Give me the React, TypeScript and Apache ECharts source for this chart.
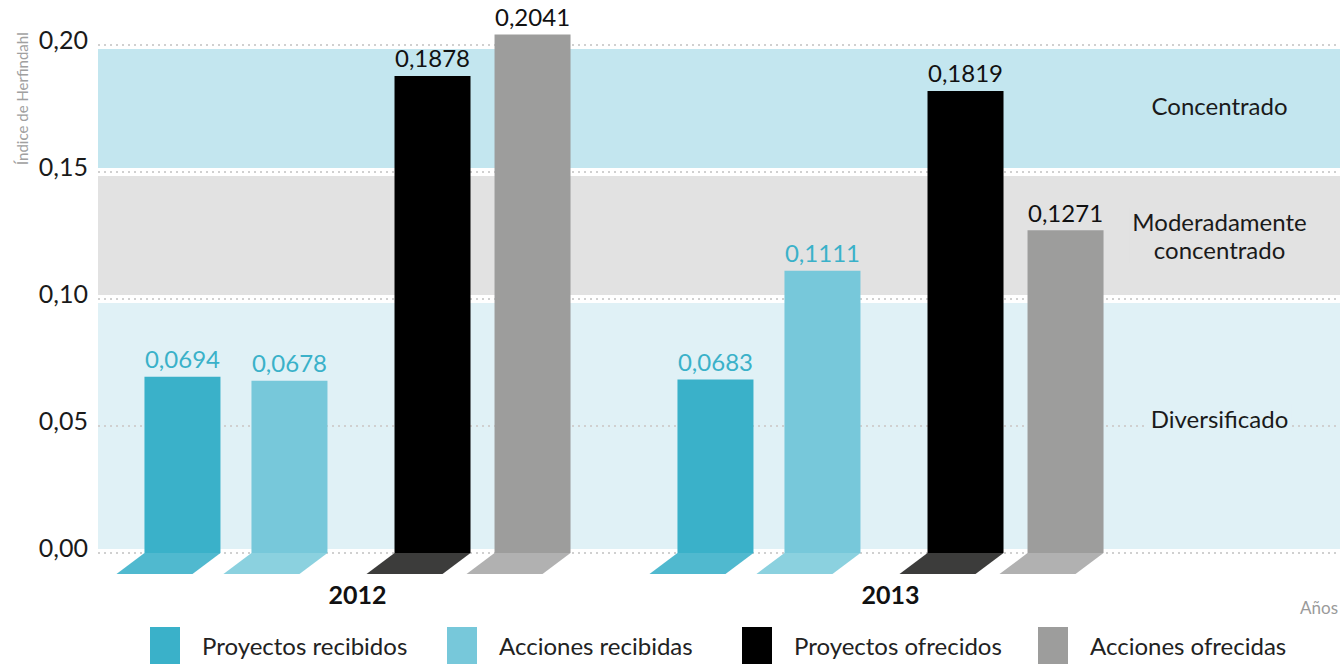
import React, { useEffect, useRef } from 'react';
import * as echarts from 'echarts';

// ---------- data ----------
const years = ['2012', '2013'];
const seriesNames = ['Proyectos recibidos', 'Acciones recibidas', 'Proyectos ofrecidos', 'Acciones ofrecidas'];
const proyectosRecibidos = [0.0694, 0.0683];
const accionesRecibidas = [0.0678, 0.1111];
const proyectosOfrecidos = [0.1878, 0.1819];
const accionesOfrecidas = [0.2041, 0.1271];
const yTicks = [0, 0.05, 0.1, 0.15, 0.2];
const gapTicks = [0, 0.1, 0.15, 0.2];
const bandNames = ['Diversificado', 'Moderadamente\nconcentrado', 'Concentrado'];
const bandBounds = [
  [0, 0.1],
  [0.1, 0.15],
  [0.15, 0.2],
];
const yAxisTitle = 'Índice de Herfindahl';
const xAxisTitle = 'Años';

// ---------- styles ----------
const FONT = 'Lato';
const barColors = ['#3ab1c9', '#77c8da', '#000000', '#9d9d9c'];
const floorColors = ['#50b9cf', '#8bd1df', '#3c3c3b', '#b1b1b1'];
const labelColors = ['#3ab1c9', '#3ab1c9', '#111111', '#111111'];
const bandColors = ['#e0f1f6', '#e2e2e2', '#c3e6ef'];
const bandLabelOffsets = [[0, -8], [0, 0], [0, -3]];
const legendLefts = [150, 447, 742, 1038];

const BAR_W = 76;
const GAP_FRAC = 0.316;
// column widths on the axis: bar, spacer, bar, spacer, bar, bar
const columnWidths = [BAR_W, 5.3, BAR_W, 32.7, BAR_W, BAR_W];
const barColumnIndex = [0, 2, 4, 5];

function fmt(v: number, d: number) {
  return v.toFixed(d).replace('.', ',');
}

export default function App() {
  const ref = useRef<HTMLDivElement>(null);

  useEffect(() => {
    if (!ref.current) return;
    const chart = echarts.init(ref.current, undefined, { renderer: 'svg' });
    const values = [proyectosRecibidos, accionesRecibidas, proyectosOfrecidos, accionesOfrecidas];

    // replicate echarts bar layout offsets
    let sum = 0;
    columnWidths.forEach((w) => (sum += w * (1 + GAP_FRAC)));
    sum -= columnWidths[columnWidths.length - 1] * GAP_FRAC;
    let off = -sum / 2;
    const centers: number[] = [];
    columnWidths.forEach((w) => {
      centers.push(off + w / 2);
      off += w * (1 + GAP_FRAC);
    });
    const barCenters = barColumnIndex.map((c) => centers[c]);

    const spacer = (w: number, k: number) => ({
      name: 'spacer' + k,
      type: 'bar',
      xAxisIndex: 1,
      yAxisIndex: 1,
      data: years.map(() => null),
      barWidth: w,
      barGap: GAP_FRAC * 100 + '%',
      silent: true,
    });

    const barSeries: any[] = [];
    values.forEach((vals, i) => {
      barSeries.push({
        name: seriesNames[i],
        type: 'bar',
        xAxisIndex: 1,
        yAxisIndex: 1,
        data: vals,
        barWidth: BAR_W,
        barGap: GAP_FRAC * 100 + '%',
        clip: false,
        z: 10,
        itemStyle: { color: barColors[i] },
        label: {
          show: true,
          position: 'top',
          distance: 6,
          fontSize: 24,
          fontFamily: FONT,
          color: labelColors[i],
          formatter: (p: any) => fmt(p.value, 4),
        },
        emphasis: { disabled: true },
      });
      if (i === 0) barSeries.push(spacer(columnWidths[1], 1));
      if (i === 1) barSeries.push(spacer(columnWidths[3], 2));
    });

    const floorSeries = values.map((vals, i) => ({
      name: 'floor' + i,
      type: 'custom',
      xAxisIndex: 1,
      yAxisIndex: 1,
      z: 10,
      silent: true,
      data: vals.map((v, k) => [k, v]),
      encode: { x: 0, y: 1 },
      renderItem: (_params: any, api: any) => {
        const base = api.coord([api.value(0), 0]);
        const xl = base[0] + barCenters[i] - BAR_W / 2;
        const xr = xl + BAR_W;
        const y = base[1];
        return {
          type: 'polygon',
          shape: {
            points: [
              [xl, y],
              [xr, y],
              [xr - 28, y + 21],
              [xl - 28, y + 21],
            ],
          },
          style: { fill: floorColors[i] },
        };
      },
    }));

    const option: any = {
      animation: false,
      textStyle: { fontFamily: FONT },
      grid: [
        { left: 98, right: 0, top: 45, bottom: 111 },
        { left: 91, right: 183, top: 45, bottom: 111 },
      ],
      xAxis: [
        { type: 'value', gridIndex: 0, show: false, min: 0, max: 1 },
        {
          type: 'category',
          gridIndex: 1,
          data: years,
          axisLine: { show: false },
          axisTick: { show: false },
          axisLabel: { fontSize: 25, fontWeight: 'bold', color: '#111', margin: 28, fontFamily: FONT },
        },
      ],
      yAxis: [
        {
          type: 'value',
          gridIndex: 0,
          min: 0,
          max: 0.2,
          interval: 0.05,
          axisLine: { show: false },
          axisTick: { show: false },
          splitLine: { show: false },
          axisLabel: {
            fontSize: 25,
            color: '#1a1a1a',
            margin: 10,
            fontFamily: FONT,
            verticalAlign: 'bottom',
            lineHeight: 12,
            formatter: (v: number) => fmt(v, 2),
          },
        },
        {
          type: 'value',
          gridIndex: 1,
          min: 0,
          max: 0.2,
          interval: 0.05,
          show: false,
          splitLine: { show: false },
        },
      ],
      legend: seriesNames.map((n, i) => ({
        data: [n],
        left: legendLefts[i],
        top: 627,
        padding: 0,
        itemWidth: 30,
        itemHeight: 37,
        icon: 'rect',
        selectedMode: false,
        textStyle: { fontSize: 24, color: '#222', fontFamily: FONT, padding: [0, 0, 0, 17] },
      })),
      graphic: [
        {
          type: 'text',
          x: 22,
          y: 165,
          rotation: Math.PI / 2,
          style: {
            text: yAxisTitle,
            fontSize: 15,
            fontFamily: FONT,
            fill: '#a0a0a0',
            align: 'left',
            verticalAlign: 'middle',
          },
        },
        {
          type: 'text',
          x: 1338,
          y: 607,
          style: {
            text: xAxisTitle,
            fontSize: 17,
            fontFamily: FONT,
            fill: '#9a9a9a',
            align: 'right',
            verticalAlign: 'middle',
          },
        },
      ],
      series: [
        {
          type: 'line',
          name: 'bands',
          xAxisIndex: 0,
          yAxisIndex: 0,
          data: [],
          z: 1,
          silent: true,
          markArea: {
            z: 1,
            silent: true,
            data: bandBounds.map((b, i) => [
              { yAxis: b[0], itemStyle: { color: bandColors[i] } },
              { yAxis: b[1] },
            ]),
          },
        },
        {
          type: 'line',
          name: 'gaps',
          xAxisIndex: 0,
          yAxisIndex: 0,
          data: [],
          z: 2,
          silent: true,
          markLine: {
            z: 2,
            silent: true,
            symbol: 'none',
            label: { show: false },
            lineStyle: { color: '#ffffff', width: 8, type: 'solid' },
            data: gapTicks.map((v) => ({ yAxis: v })),
          },
        },
        {
          type: 'line',
          name: 'grid',
          xAxisIndex: 0,
          yAxisIndex: 0,
          data: [],
          z: 3,
          silent: true,
          markLine: {
            z: 3,
            silent: true,
            symbol: 'none',
            label: { show: false },
            lineStyle: { color: '#d0d0d0', width: 2, type: [2, 4] },
            data: yTicks.map((v) => ({ yAxis: v })),
          },
        },
        {
          type: 'line',
          name: 'bandLabels',
          xAxisIndex: 0,
          yAxisIndex: 0,
          data: [],
          z: 4,
          silent: true,
          markArea: {
            z: 4,
            silent: true,
            data: bandBounds.map((b, i) => [
              {
                yAxis: b[0],
                name: bandNames[i],
                itemStyle: { color: 'rgba(0,0,0,0)' },
                label: {
                  show: true,
                  position: ['90.3%', '50%'],
                  align: 'center',
                  verticalAlign: 'middle',
                  offset: bandLabelOffsets[i],
                  fontSize: 24,
                  lineHeight: 28,
                  fontFamily: FONT,
                  color: '#1a1a1a',
                  backgroundColor: bandColors[i],
                  padding: [0, 3],
                },
              },
              { yAxis: b[1] },
            ]),
          },
        },
        ...barSeries,
        ...floorSeries,
      ],
    };

    chart.setOption(option);
    return () => chart.dispose();
  }, []);

  return (
    <div
      ref={ref}
      style={{ position: 'fixed', left: 0, top: 0, width: 1340, height: 664, background: '#fff' }}
    />
  );
}
